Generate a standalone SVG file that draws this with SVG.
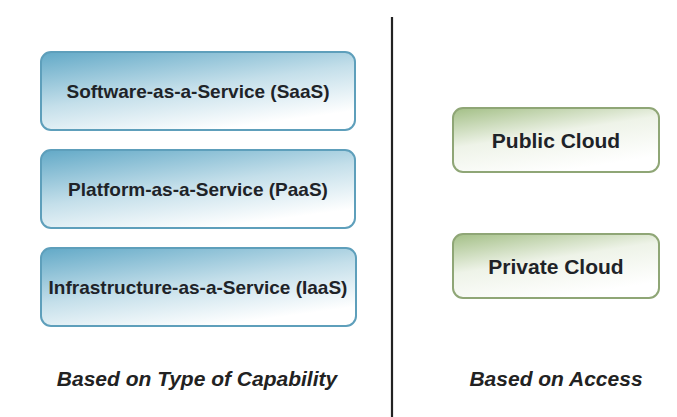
<svg xmlns="http://www.w3.org/2000/svg" width="677" height="417" viewBox="0 0 677 417">
<defs>
<linearGradient id="gBlue" x1="0" y1="0" x2="0.55" y2="1">
<stop offset="0" stop-color="#62a9c7"/>
<stop offset="0.55" stop-color="#c4dfea"/>
<stop offset="1" stop-color="#ffffff"/>
</linearGradient>
<linearGradient id="gGreen" x1="0" y1="0" x2="0.5" y2="1">
<stop offset="0" stop-color="#a3bf86"/>
<stop offset="0.5" stop-color="#eef3e8"/>
<stop offset="1" stop-color="#ffffff"/>
</linearGradient>
<style>
.blue{fill:url(#gBlue);stroke:#5e9fbb;stroke-width:2}
.green{fill:url(#gGreen);stroke:#8fa676;stroke-width:2}
.t{font-family:"Liberation Sans",Arial,sans-serif;font-weight:bold;fill:#1e2328;text-anchor:middle}
.lbl{font-family:"Liberation Sans",Arial,sans-serif;font-weight:bold;font-style:italic;font-size:21px;fill:#222;text-anchor:middle}
</style>
</defs>
<rect width="677" height="417" fill="#ffffff"/>
<g id="connectors">
<line x1="392" y1="17" x2="392" y2="417" stroke="#222" stroke-width="2.2"/>
</g>
<g id="saas">
<rect class="blue" x="41" y="52" width="314" height="78" rx="10"/>
<text class="t" x="198" y="98" font-size="19">Software-as-a-Service (SaaS)</text>
</g>
<g id="paas">
<rect class="blue" x="41" y="150" width="314" height="78" rx="10"/>
<text class="t" x="198" y="196" font-size="19">Platform-as-a-Service (PaaS)</text>
</g>
<g id="iaas">
<rect class="blue" x="41" y="248" width="315" height="78" rx="10"/>
<text class="t" x="198" y="294" font-size="19">Infrastructure-as-a-Service (IaaS)</text>
</g>
<g id="public">
<rect class="green" x="453" y="108" width="206" height="64" rx="10"/>
<text class="t" x="556" y="148" font-size="21">Public Cloud</text>
</g>
<g id="private">
<rect class="green" x="453" y="234" width="206" height="64" rx="10"/>
<text class="t" x="556" y="274" font-size="21">Private Cloud</text>
</g>
<g id="labels">
<text class="lbl" x="197" y="386">Based on Type of Capability</text>
<text class="lbl" x="556" y="386">Based on Access</text>
</g>
</svg>
